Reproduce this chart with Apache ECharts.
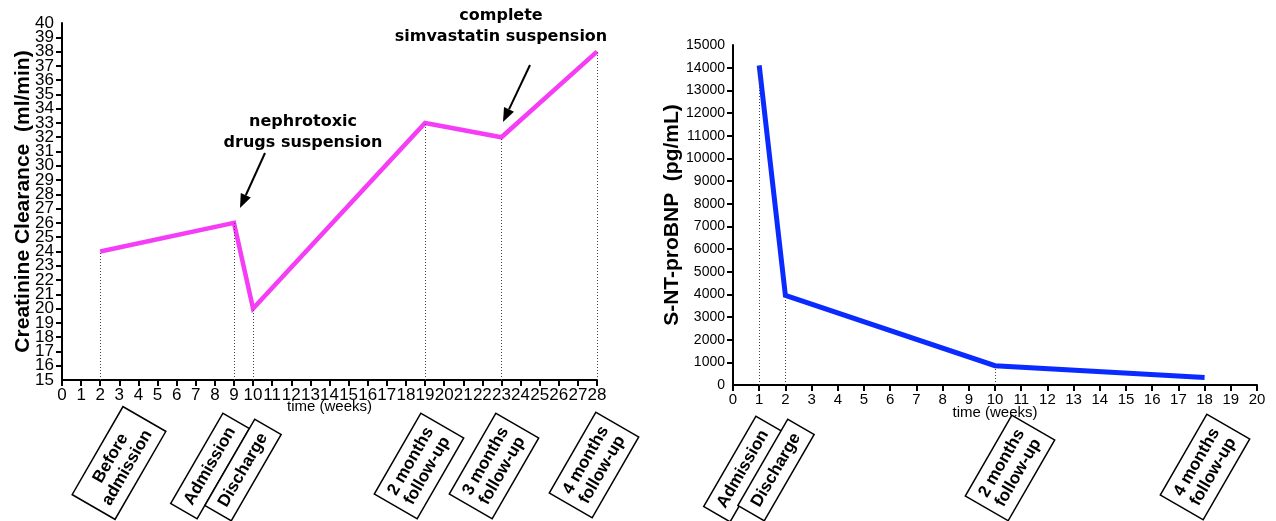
<!DOCTYPE html>
<html><head><meta charset="utf-8">
<script src="https://cdn.jsdelivr.net/npm/echarts@6/dist/echarts.min.js"></script>
<style>html,body{margin:0;padding:0;background:#fff}#c{width:1276px;height:521px}</style>
</head><body><div id="c"></div>
<script>
// ---- data ----
const ccWeeks = [2, 9, 10, 19, 23, 28];
const ccValues = [24, 26, 20, 33, 32, 38];
const ccDropWeeks = [2, 9, 10, 19, 23, 28];
const bnpWeeks = [1, 2, 10, 18];
const bnpValues = [14100, 3950, 850, 330];
const bnpDropWeeks = [1, 2, 10];
const ccEvents = ['Before\nadmission', 'Admission', 'Discharge', '2 months\nfollow-up', '3 months\nfollow-up', '4 months\nfollow-up'];
const bnpEvents = ['Admission', 'Discharge', '2 months\nfollow-up', '4 months\nfollow-up'];
const annotations = ['nephrotoxic\ndrugs suspension', 'complete\nsimvastatin suspension'];
const ccTitle = 'Creatinine Clearance  (ml/min)';
const bnpTitle = 'S-NT-proBNP  (pg/mL)';
const xTitle = 'time (weeks)';
const ccYRange = [15, 40];
const bnpYRange = [0, 15000];

// ---- layout ----
const ccEventPos = [[119, 463], [210, 466], [243, 470], [419, 466], [494, 466], [594, 465]];
const bnpEventPos = [[743, 469], [776, 470], [1010, 468], [1205, 467]];
const annoPos = [[303, 132], [501, 26]];
const arrows = [[[265, 153], [240, 208]], [[530, 65], [503, 122]]];

const FONT = '"Liberation Sans", Arial, sans-serif';

function valueX(gi, min, max, fs, gap) {
  return {
    gridIndex: gi, type: 'value', min: min, max: max, interval: 1,
    axisLine: { show: true, onZero: false, lineStyle: { color: '#000', width: 2 } },
    axisTick: { show: true, length: 6, lineStyle: { color: '#000', width: 2 } },
    axisLabel: { color: '#000', fontSize: fs, fontFamily: FONT, margin: 7,
      showMinLabel: true, showMaxLabel: true, hideOverlap: false },
    splitLine: { show: false },
    name: xTitle, nameLocation: 'middle', nameGap: gap, nameMoveOverlap: false,
    nameTextStyle: { color: '#000', fontSize: 15, fontFamily: FONT }
  };
}
// primary y axis: line, ticks, name and inner labels
function valueY(gi, range, interval, fs, name, gap) {
  return {
    gridIndex: gi, type: 'value', min: range[0], max: range[1], interval: interval,
    axisLine: { show: true, onZero: false, lineStyle: { color: '#000', width: 2 } },
    axisTick: { show: true, length: 6, lineStyle: { color: '#000', width: 2 } },
    axisLabel: { color: '#000', fontSize: fs, fontFamily: FONT, margin: 8,
      showMinLabel: false, showMaxLabel: false, hideOverlap: false, formatter: v => String(v) },
    splitLine: { show: false },
    name: name, nameLocation: 'middle', nameGap: gap, nameMoveOverlap: false,
    nameTextStyle: { color: '#000', fontSize: 21, fontWeight: 'bold', fontFamily: FONT }
  };
}
// companion y axis on the same grid: only the end labels
function endLabelsY(gi, range, interval, fs) {
  return {
    gridIndex: gi, type: 'value', position: 'left', min: range[0], max: range[1], interval: interval,
    axisLine: { show: false }, axisTick: { show: false }, splitLine: { show: false },
    axisLabel: { color: '#000', fontSize: fs, fontFamily: FONT, margin: 8,
      showMinLabel: true, showMaxLabel: true, hideOverlap: false,
      formatter: v => (v === range[0] || v === range[1]) ? String(v) : '' }
  };
}
function drops(weeks, xs, ys, base) {
  return weeks.map(w => {
    const i = xs.indexOf(w);
    return [{ coord: [w, base] }, { coord: [w, ys[i]] }];
  });
}
function eventBoxes(labels, pos) {
  return labels.map((t, i) => ({
    type: 'text', x: pos[i][0], y: pos[i][1], rotation: Math.PI / 3, z: 10,
    style: {
      text: t, align: 'center', verticalAlign: 'middle',
      fontSize: 17, fontWeight: 'bold', fontFamily: FONT, lineHeight: 19,
      fill: '#000', backgroundColor: '#fff', borderColor: '#000', borderWidth: 1.5,
      padding: [5, 8]
    }
  }));
}
function arrowEls(a) {
  const [t, h] = a;
  const dx = h[0] - t[0], dy = h[1] - t[1];
  const L = Math.sqrt(dx * dx + dy * dy);
  const ux = dx / L, uy = dy / L;
  const hl = 14, hw = 5.5;
  const bx = h[0] - ux * hl, by = h[1] - uy * hl;
  return [
    { type: 'line', shape: { x1: t[0], y1: t[1], x2: bx, y2: by }, style: { stroke: '#000', lineWidth: 2 } },
    { type: 'polygon', shape: { points: [h, [bx - uy * hw, by + ux * hw], [bx + uy * hw, by - ux * hw]] }, style: { fill: '#000' } }
  ];
}

const graphics = []
  .concat(eventBoxes(ccEvents, ccEventPos))
  .concat(eventBoxes(bnpEvents, bnpEventPos))
  .concat(annotations.map((t, i) => ({
    type: 'text', x: annoPos[i][0], y: annoPos[i][1],
    style: { text: t, align: 'center', verticalAlign: 'middle', fontSize: 16, fontWeight: 'bold',
      fontFamily: '"DejaVu Sans", sans-serif', lineHeight: 21, fill: '#000' }
  })))
  .concat(arrowEls(arrows[0])).concat(arrowEls(arrows[1]));

const chart = echarts.init(document.getElementById('c'), null, { renderer: 'canvas' });
chart.setOption({
  animation: false,
  backgroundColor: '#fff',
  grid: [
    { left: 62, top: 23, width: 535, height: 357, outerBoundsMode: 'none', containLabel: false },
    { left: 733, top: 45, width: 524, height: 340, outerBoundsMode: 'none', containLabel: false }
  ],
  xAxis: [valueX(0, 0, 28, 17, 19), valueX(1, 0, 20, 15, 20)],
  yAxis: [
    valueY(0, ccYRange, 1, 17, ccTitle, 28),
    valueY(1, bnpYRange, 1000, 14, bnpTitle, 50),
    endLabelsY(0, ccYRange, 1, 17),
    endLabelsY(1, bnpYRange, 1000, 14)
  ],
  series: [
    {
      type: 'line', xAxisIndex: 0, yAxisIndex: 0,
      data: ccWeeks.map((w, i) => [w, ccValues[i]]),
      showSymbol: false, symbol: 'none',
      lineStyle: { color: '#f53df5', width: 4.5, join: 'miter' },
      markLine: {
        silent: true, symbol: ['none', 'none'], label: { show: false },
        lineStyle: { color: '#444', width: 1, type: [1, 2] },
        data: drops(ccDropWeeks, ccWeeks, ccValues, ccYRange[0])
      }, z: 3
    },
    {
      type: 'line', xAxisIndex: 1, yAxisIndex: 1,
      data: bnpWeeks.map((w, i) => [w, bnpValues[i]]),
      showSymbol: false, symbol: 'none',
      lineStyle: { color: '#0a2bff', width: 5, join: 'miter' },
      markLine: {
        silent: true, symbol: ['none', 'none'], label: { show: false },
        lineStyle: { color: '#444', width: 1, type: [1, 2] },
        data: drops(bnpDropWeeks, bnpWeeks, bnpValues, bnpYRange[0])
      }, z: 3
    }
  ],
  graphic: graphics
});
</script>
</body></html>
